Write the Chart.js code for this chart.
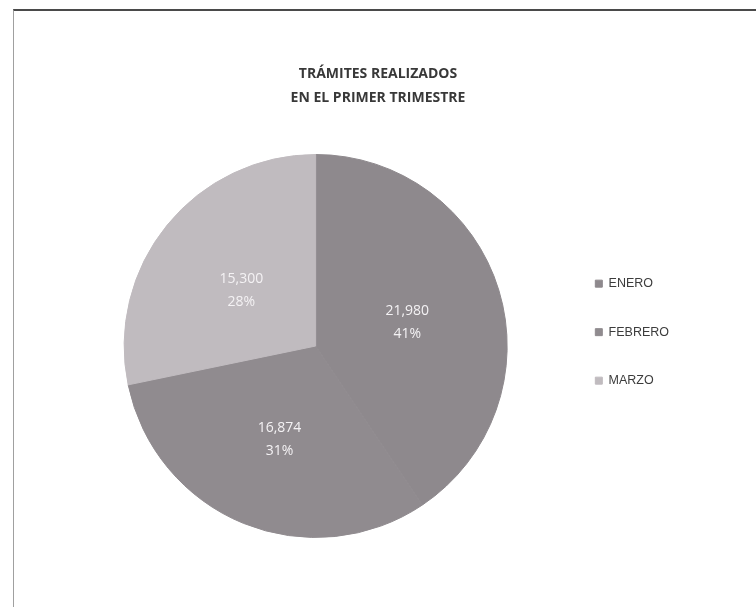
<!DOCTYPE html>
<html>
<head>
<meta charset="utf-8">
<script src="https://cdn.jsdelivr.net/npm/chart.js@4/dist/chart.umd.min.js"></script>
<style>
    html, body { margin: 0; padding: 0; background: #ffffff; }
    #wrap { position: relative; width: 756px; height: 607px; overflow: hidden; }
    #frame {
        position: absolute; left: 13px; top: 9px; width: 760px; height: 596px;
        border-top: 2px solid #4a4a4a; border-left: 1px solid #a0a0a0;
        border-bottom: 1px dotted #c8c8c8;
    }
    #chartTitle {
        position: absolute; left: 178px; top: 61px; width: 400px;
        text-align: center; font: bold 14px/24px "Open Sans", sans-serif;
        color: #383838;
    }
    #chartBox { position: absolute; left: 0; top: 0; width: 756px; height: 607px; }
</style>
</head>
<body>
<div id="wrap">
    <div id="frame"></div>
    <div id="chartBox"><canvas id="tramitesChart"></canvas></div>
    <div id="chartTitle"></div>
</div>
<script>
// Data
const months = ['ENERO', 'FEBRERO', 'MARZO'];
const tramites = [21980, 16874, 15300];
const sliceColors = ['#8e898d', '#908b8f', '#c0bbbf'];
const chartTitle = ['TRÁMITES REALIZADOS', 'EN EL PRIMER TRIMESTRE'];

// Draws value and percentage inside each slice
const sliceLabels = {
    id: 'sliceLabels',
    afterDatasetsDraw(chart) {
        const ctx = chart.ctx;
        const meta = chart.getDatasetMeta(0);
        const values = chart.data.datasets[0].data;
        const total = values.reduce((a, b) => a + b, 0);
        ctx.save();
        ctx.fillStyle = '#f4f2f4';
        ctx.font = '14px "Open Sans", sans-serif';
        ctx.textAlign = 'center';
        ctx.textBaseline = 'middle';
        meta.data.forEach((arc, i) => {
            const pos = arc.tooltipPosition();
            const pct = Math.round(values[i] / total * 100) + '%';
            ctx.fillText(values[i].toLocaleString('en-US'), pos.x, pos.y - 7);
            ctx.fillText(pct, pos.x, pos.y + 16);
        });
        ctx.restore();
    }
};

document.addEventListener('DOMContentLoaded', function() {
    document.getElementById('chartTitle').innerHTML = chartTitle.join('<br>');

    const ctx = document.getElementById('tramitesChart').getContext('2d');
    new Chart(ctx, {
        type: 'pie',
        data: {
            labels: months,
            datasets: [{
                data: tramites,
                backgroundColor: sliceColors,
                borderColor: sliceColors,
                borderWidth: 1,
                hoverOffset: 0
            }]
        },
        options: {
            responsive: true,
            maintainAspectRatio: false,
            animation: false,
            layout: {
                padding: { top: 154, bottom: 69, left: 72, right: 77 }
            },
            plugins: {
                title: { display: false },
                legend: {
                    position: 'right',
                    align: 'start',
                    title: {
                        display: true,
                        text: ' ',
                        font: { size: 12, lineHeight: 1.2 },
                        padding: { top: 73, bottom: 0 }
                    },
                    labels: {
                        boxWidth: 7,
                        boxHeight: 7,
                        padding: 36,
                        color: '#3c3c3c',
                        font: { family: '"Liberation Sans", Arial, sans-serif', size: 12.5 }
                    }
                },
                tooltip: { enabled: false }
            }
        },
        plugins: [sliceLabels]
    });
});
</script>
</body>
</html>
